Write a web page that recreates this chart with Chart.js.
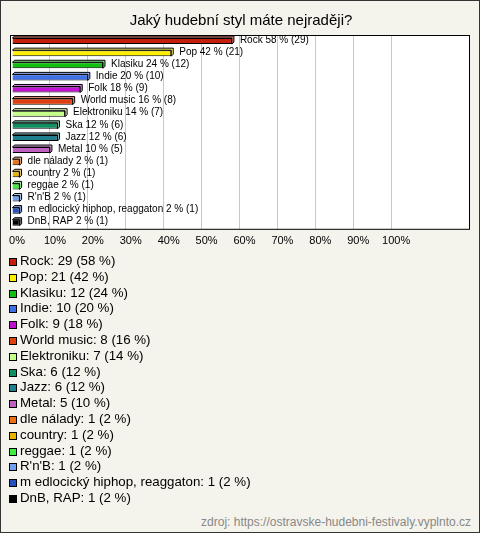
<!DOCTYPE html>
<html>
<head>
<meta charset="utf-8">
<script src="https://cdn.jsdelivr.net/npm/chart.js@4.4.1/dist/chart.umd.min.js"></script>
<style>
  body { margin: 0; background: #fff; }
  #box { position: relative; width: 478px; height: 531px; border: 1px solid #333; background: #f4f3ec; font-family: Arial, "Liberation Sans", sans-serif; }
  #wrap { position: absolute; left: 0; top: 0; width: 478px; height: 257px; }
  #legenda { position: absolute; left: 8px; top: 252px; font-size: 13.3px; line-height: 15.8px; color: #000; }
  #legenda div { white-space: nowrap; }
  #legenda span { display: inline-block; width: 6px; height: 6px; border: 1px solid #000; margin-right: 3px; vertical-align: -1px; }
  #zdroj { position: absolute; right: 8px; top: 514px; font-size: 12px; color: #888; }
</style>
</head>
<body>
<div id="box">
  <div id="wrap"><canvas id="myChart"></canvas></div>
  <div id="legenda"></div>
  <div id="zdroj">zdroj: https://ostravske-hudebni-festivaly.vyplnto.cz</div>
</div>
<script>
var styly = ["Rock", "Pop", "Klasiku", "Indie", "Folk", "World music", "Elektroniku", "Ska", "Jazz", "Metal",
  "dle nálady", "country", "reggae", "R'n'B", "m edlocický hiphop, reaggaton", "DnB, RAP"];
var pocty = [29, 21, 12, 10, 9, 8, 7, 6, 6, 5, 1, 1, 1, 1, 1, 1];
var procenta = [58, 42, 24, 20, 18, 16, 14, 12, 12, 10, 2, 2, 2, 2, 2, 2];
var barvy = ["#c41e0c", "#ffee00", "#10c010", "#4070e8", "#c010d0", "#e04010", "#c4ff88", "#109060",
  "#1f7f90", "#c060c0", "#ee7010", "#e8b400", "#40ee40", "#70a0ee", "#2450c0", "#000000"];
var tickyX = [0, 10, 20, 30, 40, 50, 60, 70, 80, 90, 100];

// legenda pod grafem
var leg = document.getElementById('legenda');
for (var i = 0; i < styly.length; i++) {
  var d = document.createElement('div');
  d.innerHTML = '<span style="background:' + barvy[i] + '"></span>' + styly[i] + ': ' + pocty[i] + ' (' + procenta[i] + ' %)';
  leg.appendChild(d);
}

var zesvetlit = function (hex) {
  var n = parseInt(hex.slice(1), 16);
  var r = (n >> 16) & 255, g = (n >> 8) & 255, b = n & 255;
  r = Math.round(r + (255 - r) * 0.45); g = Math.round(g + (255 - g) * 0.45); b = Math.round(b + (255 - b) * 0.45);
  return 'rgb(' + r + ',' + g + ',' + b + ')';
};

// bily ramecek plochy grafu + 3D hrana sloupcu + popisky
var ramecek = {
  id: 'ramecek',
  beforeDraw: function (chart) {
    var a = chart.chartArea, ctx = chart.ctx;
    ctx.save();
    ctx.fillStyle = '#fff';
    ctx.fillRect(a.left - 1, a.top, a.right - a.left + 1, a.bottom - a.top);
    ctx.restore();
  },
  beforeDatasetsDraw: function (chart) {
    var ctx = chart.ctx;
    ctx.save();
    chart.getDatasetMeta(0).data.forEach(function (bar, i) {
      var h = bar.height, x0 = bar.base, x1 = bar.x, y0 = bar.y - h / 2;
      ctx.fillStyle = zesvetlit(barvy[i]);
      ctx.strokeStyle = '#000';
      ctx.lineWidth = 1;
      ctx.beginPath();
      ctx.moveTo(x0, y0); ctx.lineTo(x0 + 2, y0 - 2); ctx.lineTo(x1 + 2, y0 - 2);
      ctx.lineTo(x1 + 2, y0 + h - 2); ctx.lineTo(x1, y0 + h); ctx.lineTo(x1, y0); ctx.closePath();
      ctx.fill(); ctx.stroke();
    });
    ctx.restore();
  },
  afterDatasetsDraw: function (chart) {
    var ctx = chart.ctx;
    ctx.save();
    ctx.font = '10px Arial, "Liberation Sans"';
    ctx.fillStyle = '#000';
    ctx.textBaseline = 'middle';
    chart.getDatasetMeta(0).data.forEach(function (bar, i) {
      ctx.fillText(styly[i] + ' ' + procenta[i] + ' % (' + pocty[i] + ')', bar.x + 8, bar.y - 1);
    });
    var a = chart.chartArea;
    ctx.strokeStyle = '#000';
    ctx.lineWidth = 1;
    ctx.strokeRect(a.left - 1.5, a.top + 0.5, a.right - a.left + 1, a.bottom - a.top);
    ctx.restore();
  }
};

new Chart("myChart", {
  type: "bar",
  data: {
    labels: styly,
    datasets: [{
      data: procenta,
      backgroundColor: barvy,
      borderColor: "#000",
      borderWidth: 1,
      barPercentage: 0.5,
      categoryPercentage: 1
    }]
  },
  options: {
    indexAxis: 'y',
    responsive: true,
    maintainAspectRatio: false,
    animation: false,
    layout: { padding: { left: 11, right: 9, top: 0, bottom: 4 } },
    plugins: {
      legend: { display: false },
      tooltip: { enabled: false },
      title: {
        display: true,
        text: "Jaký hudební styl máte nejraději?",
        color: "#000",
        font: { family: 'Arial, "Liberation Sans"', size: 15, weight: 'normal' },
        padding: { top: 11, bottom: 5 }
      }
    },
    scales: {
      y: { display: false },
      x: {
        min: 0,
        max: 120.8,
        border: { display: false },
        grid: {
          drawTicks: false,
          color: function (c) { return c.tick && c.tick.value <= 100 && c.tick.value > 0 ? '#c8c8c8' : 'rgba(0,0,0,0)'; }
        },
        afterBuildTicks: function (ax) { ax.ticks = tickyX.map(function (v) { return { value: v }; }); },
        afterFit: function (ax) { ax.paddingLeft = 0; ax.paddingRight = 0; },
        ticks: {
          padding: 6,
          labelOffset: 5,
          color: "#000",
          font: { family: 'Arial, "Liberation Sans"', size: 11 },
          callback: function (v) { return v + '%'; }
        }
      }
    }
  },
  plugins: [ramecek]
});
</script>
</body>
</html>
